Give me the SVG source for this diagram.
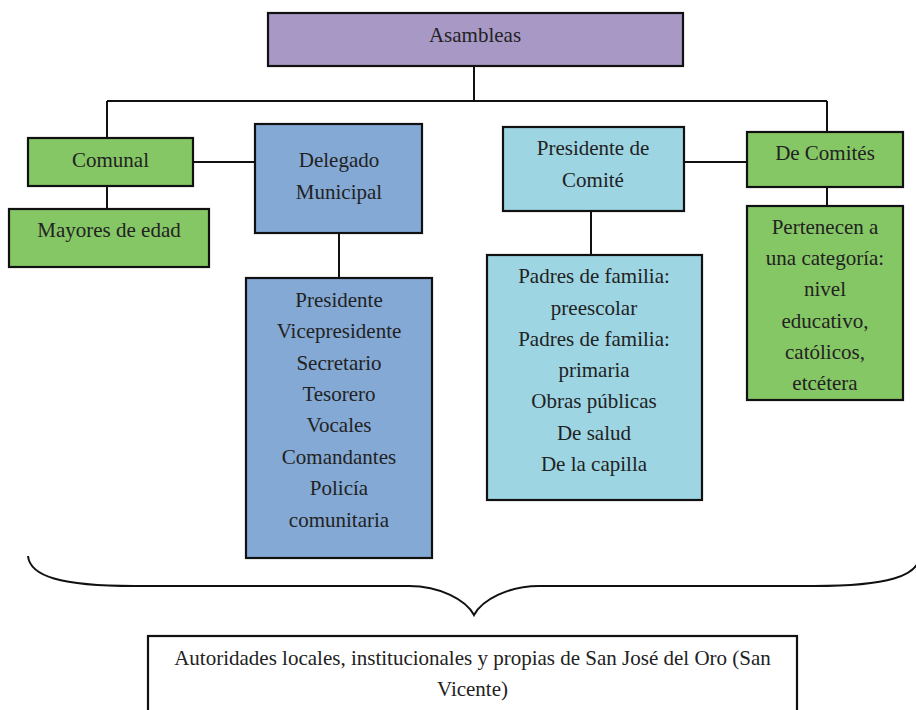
<svg xmlns="http://www.w3.org/2000/svg" width="916" height="710" viewBox="0 0 916 710">
<style>
.box{stroke:#111;stroke-width:2.2}
.purple{fill:#A898C6}
.green{fill:#86C765}
.blue{fill:#84A9D5}
.cyan{fill:#9DD5E3}
.white{fill:#fff}
.t{font-size:21px;fill:#222;text-anchor:middle}
.conn{fill:none;stroke:#111;stroke-width:2}
</style>
<rect width="916" height="710" fill="#fff"/>
<g id="connectors">
<path class="conn" d="M474 66 V101 M107 101 H827 M107 101 V138 M827 101 V132"/>
<path class="conn" d="M193 162 H255 M107 186 V209 M339 233 V278"/>
<path class="conn" d="M684 162 H747 M827 187 V206 M591 211 V255"/>
<path class="conn" d="M28 556 C30 576 60 586 134 586 L409 586 C440 586 466 600 474 615 C482 600 508 586 539 586 L814 586 C888 586 918 576 920 556"/>
</g>
<g class="t" font-family="Liberation Serif, Times New Roman, serif">
<g id="asambleas">
<rect class="box purple" x="268" y="13" width="415" height="53"/>
<text x="475" y="41.5">Asambleas</text>
</g>
<g id="comunal">
<rect class="box green" x="28" y="138" width="165" height="48"/>
<text x="110.5" y="166.5">Comunal</text>
</g>
<g id="mayores">
<rect class="box green" x="9" y="209" width="200" height="58"/>
<text x="109" y="236.5">Mayores de edad</text>
</g>
<g id="delegado">
<rect class="box blue" x="255" y="124" width="167" height="109"/>
<text x="339" y="167">Delegado</text>
<text x="339" y="199">Municipal</text>
</g>
<g id="delegado-lista">
<rect class="box blue" x="246" y="278" width="186" height="280"/>
<text x="339" y="306.5">Presidente</text>
<text x="339" y="338">Vicepresidente</text>
<text x="339" y="369.5">Secretario</text>
<text x="339" y="401">Tesorero</text>
<text x="339" y="432">Vocales</text>
<text x="339" y="463.5">Comandantes</text>
<text x="339" y="495">Policía</text>
<text x="339" y="526.5">comunitaria</text>
</g>
<g id="presidente-comite">
<rect class="box cyan" x="503" y="127" width="181" height="84"/>
<text x="593" y="155">Presidente de</text>
<text x="593" y="186.5">Comité</text>
</g>
<g id="comite-lista">
<rect class="box cyan" x="487" y="255" width="215" height="245"/>
<text x="594" y="283">Padres de familia:</text>
<text x="594" y="314.5">preescolar</text>
<text x="594" y="346">Padres de familia:</text>
<text x="594" y="377">primaria</text>
<text x="594" y="408">Obras públicas</text>
<text x="594" y="439.5">De salud</text>
<text x="594" y="471">De la capilla</text>
</g>
<g id="de-comites">
<rect class="box green" x="747" y="132" width="156" height="55"/>
<text x="825" y="159.5">De Comités</text>
</g>
<g id="pertenecen">
<rect class="box green" x="747" y="206" width="156" height="194"/>
<text x="825" y="233.5">Pertenecen a</text>
<text x="825" y="264.5">una categoría:</text>
<text x="825" y="296">nivel</text>
<text x="825" y="327.5">educativo,</text>
<text x="825" y="359">católicos,</text>
<text x="825" y="390">etcétera</text>
</g>
<g id="autoridades">
<rect class="box white" x="148" y="636" width="649" height="84"/>
<text x="472.5" y="665">Autoridades locales, institucionales y propias de San José del Oro (San</text>
<text x="472.5" y="695.5">Vicente)</text>
</g>
</g>
</svg>
